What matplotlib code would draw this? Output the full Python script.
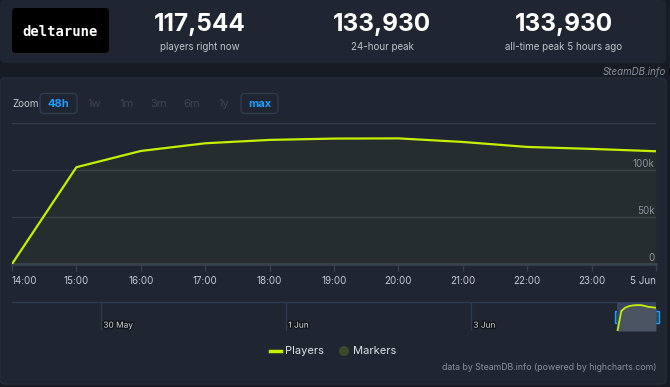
import matplotlib
matplotlib.use("Agg")
import matplotlib.pyplot as plt
import matplotlib.patheffects as pe
from matplotlib.patches import FancyBboxPatch, Rectangle, Circle
import numpy as np

plt.rcParams['font.family'] = ['Inter', 'DejaVu Sans']

# данные
hours = [14, 15, 16, 17, 18, 19, 20, 21, 22, 23, 24]
players = [0, 103200, 120500, 128700, 132300, 133700, 133930, 130100, 124800, 122700, 120200]
hour_labels = ["14:00", "15:00", "16:00", "17:00", "18:00", "19:00", "20:00",
               "21:00", "22:00", "23:00", "5 Jun"]
y_ticks = [0, 50000, 100000, 150000]
y_labels = ["0", "50k", "100k", ""]
stat_values = ["117,544", "133,930", "133,930"]
stat_names = ["players right now", "24-hour peak", "all-time peak 5 hours ago"]
nav_days = [-144, -96, -48]          # часы до 5 Jun 00:00
nav_labels = ["30 May", "1 Jun", "3 Jun"]
zoom_buttons = ["48h", "1w", "1m", "3m", "6m", "1y", "max"]
zoom_active = [True, False, False, False, False, False, True]

# цвета
BG = "#171b23"
PANEL = "#1f2531"
LIME = "#c6ef00"
GRID = "#333c4a"
W, H = 670, 387

fig = plt.figure(figsize=(W / 100, H / 100), dpi=100, facecolor=BG)

# фоновая ось в пикселях
bg = fig.add_axes([0, 0, 1, 1], zorder=-1)
bg.set_xlim(0, W)
bg.set_ylim(H, 0)
bg.axis("off")

bg.add_patch(FancyBboxPatch((0, 0), 666, 63, boxstyle="round,pad=0,rounding_size=5",
                            fc=PANEL, ec="none"))
bg.add_patch(FancyBboxPatch((0, 78), 666, 306, boxstyle="round,pad=0,rounding_size=5",
                            fc=PANEL, ec="#262d3a", lw=1))

# логотип
bg.add_patch(FancyBboxPatch((12, 8), 97, 45, boxstyle="round,pad=0,rounding_size=4",
                            fc="black", ec="none"))
bg.text(60, 32, "deltarune", color="white", fontsize=10, fontweight="bold",
        family="DejaVu Sans Mono", ha="center", va="center")

# статистика
for cx, v, n in zip([200, 382, 564], stat_values, stat_names):
    bg.text(cx, 24, v, color="white", fontsize=17.5, fontweight="bold", ha="center", va="center")
    bg.text(cx, 47, n, color="#c0c5cc", fontsize=7, ha="center", va="center")

bg.text(666, 72, "SteamDB.info", color="#8a919b", fontsize=7, style="italic",
        ha="right", va="center")

# кнопки масштаба
bg.text(12, 104, "Zoom", color="#c3c8cf", fontsize=7, ha="left", va="center")
btn_x = [58.5, 94, 127, 159, 192, 224, 259.5]
btn_w = [37, 0, 0, 0, 0, 0, 37]
for bx, lab, act, bw in zip(btn_x, zoom_buttons, zoom_active, btn_w):
    if act:
        bg.add_patch(FancyBboxPatch((bx - bw / 2, 93.5), bw, 20,
                                    boxstyle="round,pad=0,rounding_size=4",
                                    fc="none", ec="#2f3b4d", lw=1))
        bg.text(bx, 104, lab, color="#1a9fff", fontsize=8, fontweight="bold",
                ha="center", va="center")
    else:
        bg.text(bx, 104, lab, color="#3b4656", fontsize=8, ha="center", va="center")

# основной график
ax = fig.add_axes([12 / W, (H - 264) / H, 644 / W, (264 - 123.3) / H])
ax.set_facecolor("none")
ax.set_xlim(14, 24)
ax.set_ylim(0, 150000)
for s in ax.spines.values():
    s.set_visible(False)
for yt in y_ticks[1:]:
    ax.axhline(yt, color=GRID, lw=1, zorder=1)
ax.axhline(0, color="#34404f", lw=2, zorder=1, clip_on=False)
ax.fill_between(hours, players, color=LIME, alpha=0.045, lw=0, zorder=2)
ax.plot(hours, players, color=LIME, lw=1.6, zorder=3, solid_joinstyle="round")
ax.set_yticks([])
ax.set_xticks(hours)
ax.set_xticklabels(hour_labels)
ax.tick_params(axis="x", length=5, width=1, color="#34404f", pad=4,
               labelsize=7, labelcolor="#c5ccd4")
labs = ax.get_xticklabels()
labs[0].set_ha("left")
labs[-1].set_ha("right")
for yt, yl in zip(y_ticks, y_labels):
    ax.annotate(yl, (1, yt), xycoords=("axes fraction", "data"), xytext=(-1, 2),
                textcoords="offset points", ha="right", va="baseline",
                fontsize=7, color="#8d96a1")

# навигатор
nav = fig.add_axes([12 / W, (H - 331) / H, 644 / W, 29 / H])
nav.set_facecolor("none")
nav.set_xlim(-167.1, 0)
nav.set_ylim(0, 150000)
nav.axis("off")
nav_x = [h - 24 for h in hours]
nav.axvspan(nav_x[0], 0, color="#35435e", lw=0, zorder=1)
nav.fill_between(nav_x, players, color="#4a5463", lw=0, zorder=2)
nav.plot(nav_x, players, color=LIME, lw=1.3, zorder=3)
nav.plot([-167.1, nav_x[0]], [150000, 150000], color="#2c3b4d", lw=1, clip_on=False)
for d, lab in zip(nav_days, nav_labels):
    nav.axvline(d, color="#2e3b4c", lw=1)
    nav.text(d + 0.6, 0.2, lab, transform=nav.get_xaxis_transform(), fontsize=6,
             color="#cfd3d8", ha="left", va="center",
             path_effects=[pe.withStroke(linewidth=2, foreground="#111418")])

# ручки навигатора
for hx in [617, 656]:
    bg.add_patch(Rectangle((hx - 2.5, 311), 5, 12, fc="#1f4a69", ec="#1a9fff", lw=1, zorder=5))

# легенда
bg.plot([270, 281], [351, 351], color=LIME, lw=2.5)
bg.text(285, 351, "Players", color="#dfe3e8", fontsize=8, ha="left", va="center")
bg.add_patch(Circle((344, 351), 5, fc="#3b4a2b", ec="none"))
bg.text(353, 351, "Markers", color="#dfe3e8", fontsize=8, ha="left", va="center")

bg.text(656, 368, "data by SteamDB.info (powered by highcharts.com)", color="#8b929b",
        fontsize=6.3, ha="right", va="center")

fig.savefig("out.png", dpi=100, facecolor=BG)
